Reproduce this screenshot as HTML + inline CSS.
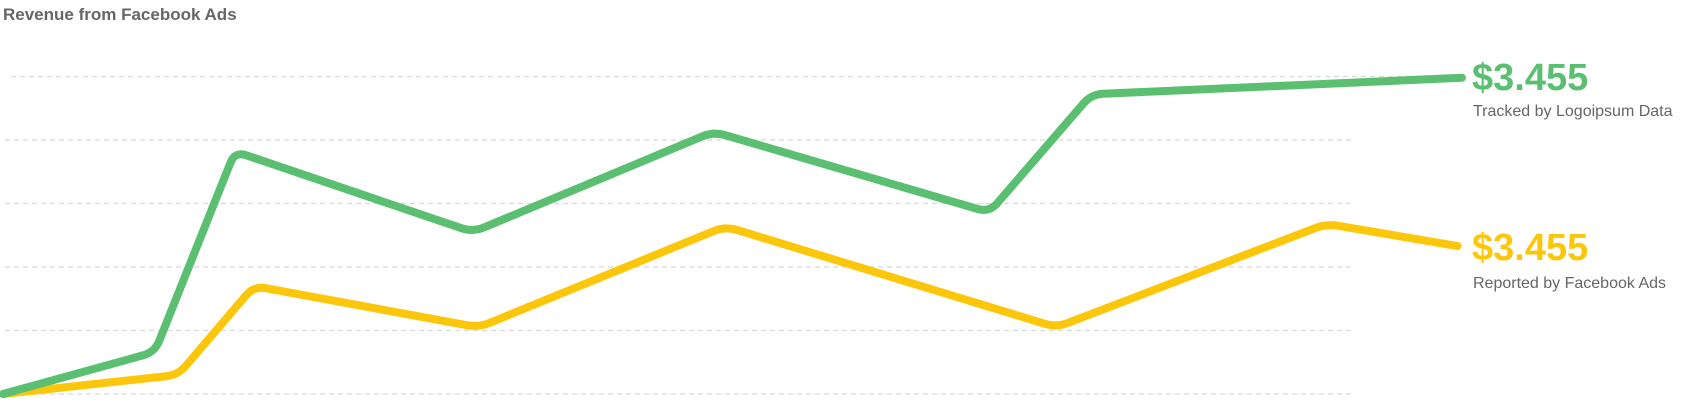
<!DOCTYPE html>
<html><head><meta charset="utf-8"><style>
body{margin:0;background:#fff;width:1706px;height:400px;overflow:hidden;font-family:"Liberation Sans",sans-serif}
</style></head><body>
<svg id="chart" width="1706" height="400" xmlns="http://www.w3.org/2000/svg">
<text x="3" y="20" font-size="17" font-weight="bold" fill="#666">Revenue from Facebook Ads</text>
<g id="grid"></g><g id="lines"></g>
<text x="1472" y="90" font-size="38" font-weight="bold" fill="#5bbf72">$3.455</text>
<text x="1473" y="116" font-size="16" fill="#666">Tracked by Logoipsum Data</text>
<text x="1472" y="260" font-size="38" font-weight="bold" fill="#fcc70a">$3.455</text>
<text x="1473" y="288" font-size="16" fill="#666">Reported by Facebook Ads</text>
</svg>
<script>
const gridTicks=[0,1,2,3,4,5];
const greenX=[0,10.4,15.9,32.2,48.7,67.6,74.6,100];
const greenY=[0,0.66,3.82,2.55,4.13,2.86,4.72,4.98];
const yellowX=[0,12,17.2,32.6,49.5,72.2,90.7,99.7];
const yellowY=[0,0.3,1.7,1.05,2.64,1.05,2.68,2.33];
const sx=v=>3+v*14.59, sy=v=>394-v*63.5;
const NS="http://www.w3.org/2000/svg";
const g=document.getElementById('grid');
gridTicks.forEach(t=>{
  const l=document.createElementNS(NS,'line');
  
  
  l.setAttribute('x1',t===5?11:5);l.setAttribute('x2',t===5?1466:1351);
  l.setAttribute('y1',sy(t));l.setAttribute('y2',sy(t));
  l.setAttribute('stroke','#d8d8d8');l.setAttribute('stroke-width','1.2');l.setAttribute('stroke-dasharray','5 4');
  g.appendChild(l);
});
const L=document.getElementById('lines');
function draw(xs,ys,color,name){
  const pts=xs.map((x,i)=>[sx(x),sy(ys[i])]);
  let d='M'+pts[0][0]+','+pts[0][1];
  for(let i=1;i<pts.length-1;i++){
    const [px,py]=pts[i-1],[cx,cy]=pts[i],[nx,ny]=pts[i+1];
    const l1=Math.hypot(cx-px,cy-py),l2=Math.hypot(nx-cx,ny-cy);
    const r=Math.min(12,l1/2,l2/2);
    const ax=cx-(cx-px)*r/l1, ay=cy-(cy-py)*r/l1;
    const bx=cx+(nx-cx)*r/l2, by=cy+(ny-cy)*r/l2;
    d+=' L'+ax+','+ay+' Q'+cx+','+cy+' '+bx+','+by;
  }
  const e=pts[pts.length-1];d+=' L'+e[0]+','+e[1];
  const p=document.createElementNS(NS,'path');
  
  
  p.setAttribute('d',d);
  p.setAttribute('fill','none');p.setAttribute('stroke',color);p.setAttribute('stroke-width','8');
  p.setAttribute('stroke-linejoin','round');p.setAttribute('stroke-linecap','round');
  L.appendChild(p);
}
draw(yellowX,yellowY,'#fcc70a','reported-line');
draw(greenX,greenY,'#5bbf72','tracked-line');
</script>
</body></html>
